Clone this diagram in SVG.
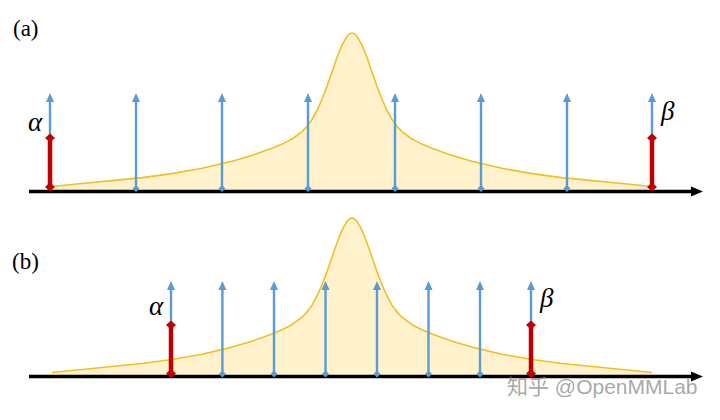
<svg xmlns="http://www.w3.org/2000/svg" xmlns:xlink="http://www.w3.org/1999/xlink" width="720" height="420" viewBox="0 0 720 420">
<style>
.curve{fill:none;stroke:#F2BF22;stroke-width:1.6;stroke-linejoin:round}
.area{fill:#FFF2CC;stroke:none}
.blue{stroke:#5B9BD5;stroke-width:2.4;fill:none}
.bluef{fill:#5B9BD5}
.red{stroke:#C00000;stroke-width:4.5;fill:none}
.redf{fill:#C00000}
.axis{stroke:#000;stroke-width:3.6;fill:none}
.lbl{font-family:"Liberation Serif","Times New Roman",serif;font-size:23px;fill:#000}
.greek{font-family:"Liberation Serif","Times New Roman",serif;font-style:italic;font-size:27px;fill:#000}
.wm{font-family:"Liberation Sans","Noto Sans CJK SC",sans-serif;font-size:21px;fill:#8a8a8a;fill-opacity:0.75}
</style>
<defs>
<path id="ah" class="bluef" d="M0,0 L-4,9 L4,9 Z"/>
<path id="bd" class="bluef" d="M0,-3.5 L3.5,0 L0,3.5 L-3.5,0 Z"/>
<path id="rd" class="redf" d="M0,-4.5 L5,0 L0,4.5 L-5,0 Z"/>
</defs>
<rect width="720" height="420" fill="#fff"/>

<g id="panel-a">
<text class="lbl" x="13" y="36">(a)</text>
<path class="area" d="M52,186.5 L82,183.5 L112,180.6 L142,177.6 L172,173.6 L202,168.3 L232,161.3 L252,155.4 L272,148.3 L282,144.1 L292,139 L302,131.6 L307,126.4 L312,119.5 L317,110.5 L322,99.3 L327,86.2 L332,71.9 L337,57.5 L342,45.1 L347,36.3 L349.5,33.8 L352,33 L354.5,33.8 L357,36.3 L362,45.1 L367,57.5 L372,71.9 L377,86.2 L382,99.3 L387,110.5 L392,119.5 L397,126.4 L402,131.6 L412,139 L422,144.1 L432,148.3 L452,155.4 L472,161.3 L502,168.3 L532,173.6 L562,177.6 L592,180.6 L622,183.5 L652,186.5 L652,190 L52,190 Z"/>
<path class="curve" d="M52,186.5 L82,183.5 L112,180.6 L142,177.6 L172,173.6 L202,168.3 L232,161.3 L252,155.4 L272,148.3 L282,144.1 L292,139 L302,131.6 L307,126.4 L312,119.5 L317,110.5 L322,99.3 L327,86.2 L332,71.9 L337,57.5 L342,45.1 L347,36.3 L349.5,33.8 L352,33 L354.5,33.8 L357,36.3 L362,45.1 L367,57.5 L372,71.9 L377,86.2 L382,99.3 L387,110.5 L392,119.5 L397,126.4 L402,131.6 L412,139 L422,144.1 L432,148.3 L452,155.4 L472,161.3 L502,168.3 L532,173.6 L562,177.6 L592,180.6 L622,183.5 L652,186.5"/>
<g id="axis-a">
<line class="axis" x1="29" y1="191.5" x2="694" y2="191.5"/>
<path d="M691,186.5 L703,191.5 L691,196.5 Z" fill="#000"/>
</g>
<g id="arrows-a">
<line class="blue" x1="50" y1="188" x2="50" y2="100"/><use xlink:href="#ah" x="50" y="93"/>
<line class="blue" x1="136" y1="188" x2="136" y2="100"/><use xlink:href="#ah" x="136" y="93"/><use xlink:href="#bd" x="136" y="188.5"/>
<line class="blue" x1="222" y1="188" x2="222" y2="100"/><use xlink:href="#ah" x="222" y="93"/><use xlink:href="#bd" x="222" y="188.5"/>
<line class="blue" x1="308" y1="188" x2="308" y2="100"/><use xlink:href="#ah" x="308" y="93"/><use xlink:href="#bd" x="308" y="188.5"/>
<line class="blue" x1="395" y1="188" x2="395" y2="100"/><use xlink:href="#ah" x="395" y="93"/><use xlink:href="#bd" x="395" y="188.5"/>
<line class="blue" x1="481" y1="188" x2="481" y2="100"/><use xlink:href="#ah" x="481" y="93"/><use xlink:href="#bd" x="481" y="188.5"/>
<line class="blue" x1="567" y1="188" x2="567" y2="100"/><use xlink:href="#ah" x="567" y="93"/><use xlink:href="#bd" x="567" y="188.5"/>
<line class="blue" x1="652" y1="188" x2="652" y2="100"/><use xlink:href="#ah" x="652" y="93"/>
</g>
<g id="alpha-a">
<line class="red" x1="50" y1="187" x2="50" y2="138"/><use xlink:href="#rd" x="50" y="138"/><use xlink:href="#rd" x="50" y="187"/>
<text class="greek" x="28" y="131">α</text>
</g>
<g id="beta-a">
<line class="red" x1="652" y1="187" x2="652" y2="138"/><use xlink:href="#rd" x="652" y="138"/><use xlink:href="#rd" x="652" y="187"/>
<text class="greek" x="661" y="120">β</text>
</g>
</g>

<g id="panel-b">
<text class="lbl" x="12" y="269">(b)</text>
<path class="area" d="M52,372.5 L82,369.5 L112,366.5 L142,363.5 L172,359.5 L202,354.2 L232,347.1 L252,341.2 L272,334 L282,329.8 L292,324.7 L302,317.2 L307,312 L312,305.1 L317,296 L322,284.8 L327,271.6 L332,257.2 L337,242.7 L342,230.2 L347,221.4 L349.5,218.8 L352,218 L354.5,218.8 L357,221.4 L362,230.2 L367,242.7 L372,257.2 L377,271.6 L382,284.8 L387,296 L392,305.1 L397,312 L402,317.2 L412,324.7 L422,329.8 L432,334 L452,341.2 L472,347.1 L502,354.2 L532,359.5 L562,363.5 L592,366.5 L622,369.5 L652,372.5 L652,375 L52,375 Z"/>
<path class="curve" d="M52,372.5 L82,369.5 L112,366.5 L142,363.5 L172,359.5 L202,354.2 L232,347.1 L252,341.2 L272,334 L282,329.8 L292,324.7 L302,317.2 L307,312 L312,305.1 L317,296 L322,284.8 L327,271.6 L332,257.2 L337,242.7 L342,230.2 L347,221.4 L349.5,218.8 L352,218 L354.5,218.8 L357,221.4 L362,230.2 L367,242.7 L372,257.2 L377,271.6 L382,284.8 L387,296 L392,305.1 L397,312 L402,317.2 L412,324.7 L422,329.8 L432,334 L452,341.2 L472,347.1 L502,354.2 L532,359.5 L562,363.5 L592,366.5 L622,369.5 L652,372.5"/>
<g id="axis-b">
<line class="axis" x1="29" y1="376.5" x2="694" y2="376.5"/>
<path d="M691,371.5 L703,376.5 L691,381.5 Z" fill="#000"/>
</g>
<g id="arrows-b">
<line class="blue" x1="171" y1="374" x2="171" y2="289"/><use xlink:href="#ah" x="171" y="281"/>
<line class="blue" x1="222.4" y1="374" x2="222.4" y2="289"/><use xlink:href="#ah" x="222.4" y="281"/><use xlink:href="#bd" x="222.4" y="374"/>
<line class="blue" x1="274" y1="374" x2="274" y2="289"/><use xlink:href="#ah" x="274" y="281"/><use xlink:href="#bd" x="274" y="374"/>
<line class="blue" x1="325.5" y1="374" x2="325.5" y2="289"/><use xlink:href="#ah" x="325.5" y="281"/><use xlink:href="#bd" x="325.5" y="374"/>
<line class="blue" x1="377" y1="374" x2="377" y2="289"/><use xlink:href="#ah" x="377" y="281"/><use xlink:href="#bd" x="377" y="374"/>
<line class="blue" x1="428.5" y1="374" x2="428.5" y2="289"/><use xlink:href="#ah" x="428.5" y="281"/><use xlink:href="#bd" x="428.5" y="374"/>
<line class="blue" x1="480" y1="374" x2="480" y2="289"/><use xlink:href="#ah" x="480" y="281"/><use xlink:href="#bd" x="480" y="374"/>
<line class="blue" x1="531" y1="374" x2="531" y2="289"/><use xlink:href="#ah" x="531" y="281"/>
</g>
<g id="alpha-b">
<line class="red" x1="171" y1="373.5" x2="171" y2="325"/><use xlink:href="#rd" x="171" y="325"/><use xlink:href="#rd" x="171" y="373.5"/>
<text class="greek" x="149" y="315">α</text>
</g>
<g id="beta-b">
<line class="red" x1="531" y1="373.5" x2="531" y2="325"/><use xlink:href="#rd" x="531" y="325"/><use xlink:href="#rd" x="531" y="373.5"/>
<text class="greek" x="540" y="307">β</text>
</g>
</g>

<text class="wm" x="507" y="394">知乎 @OpenMMLab</text>
</svg>
